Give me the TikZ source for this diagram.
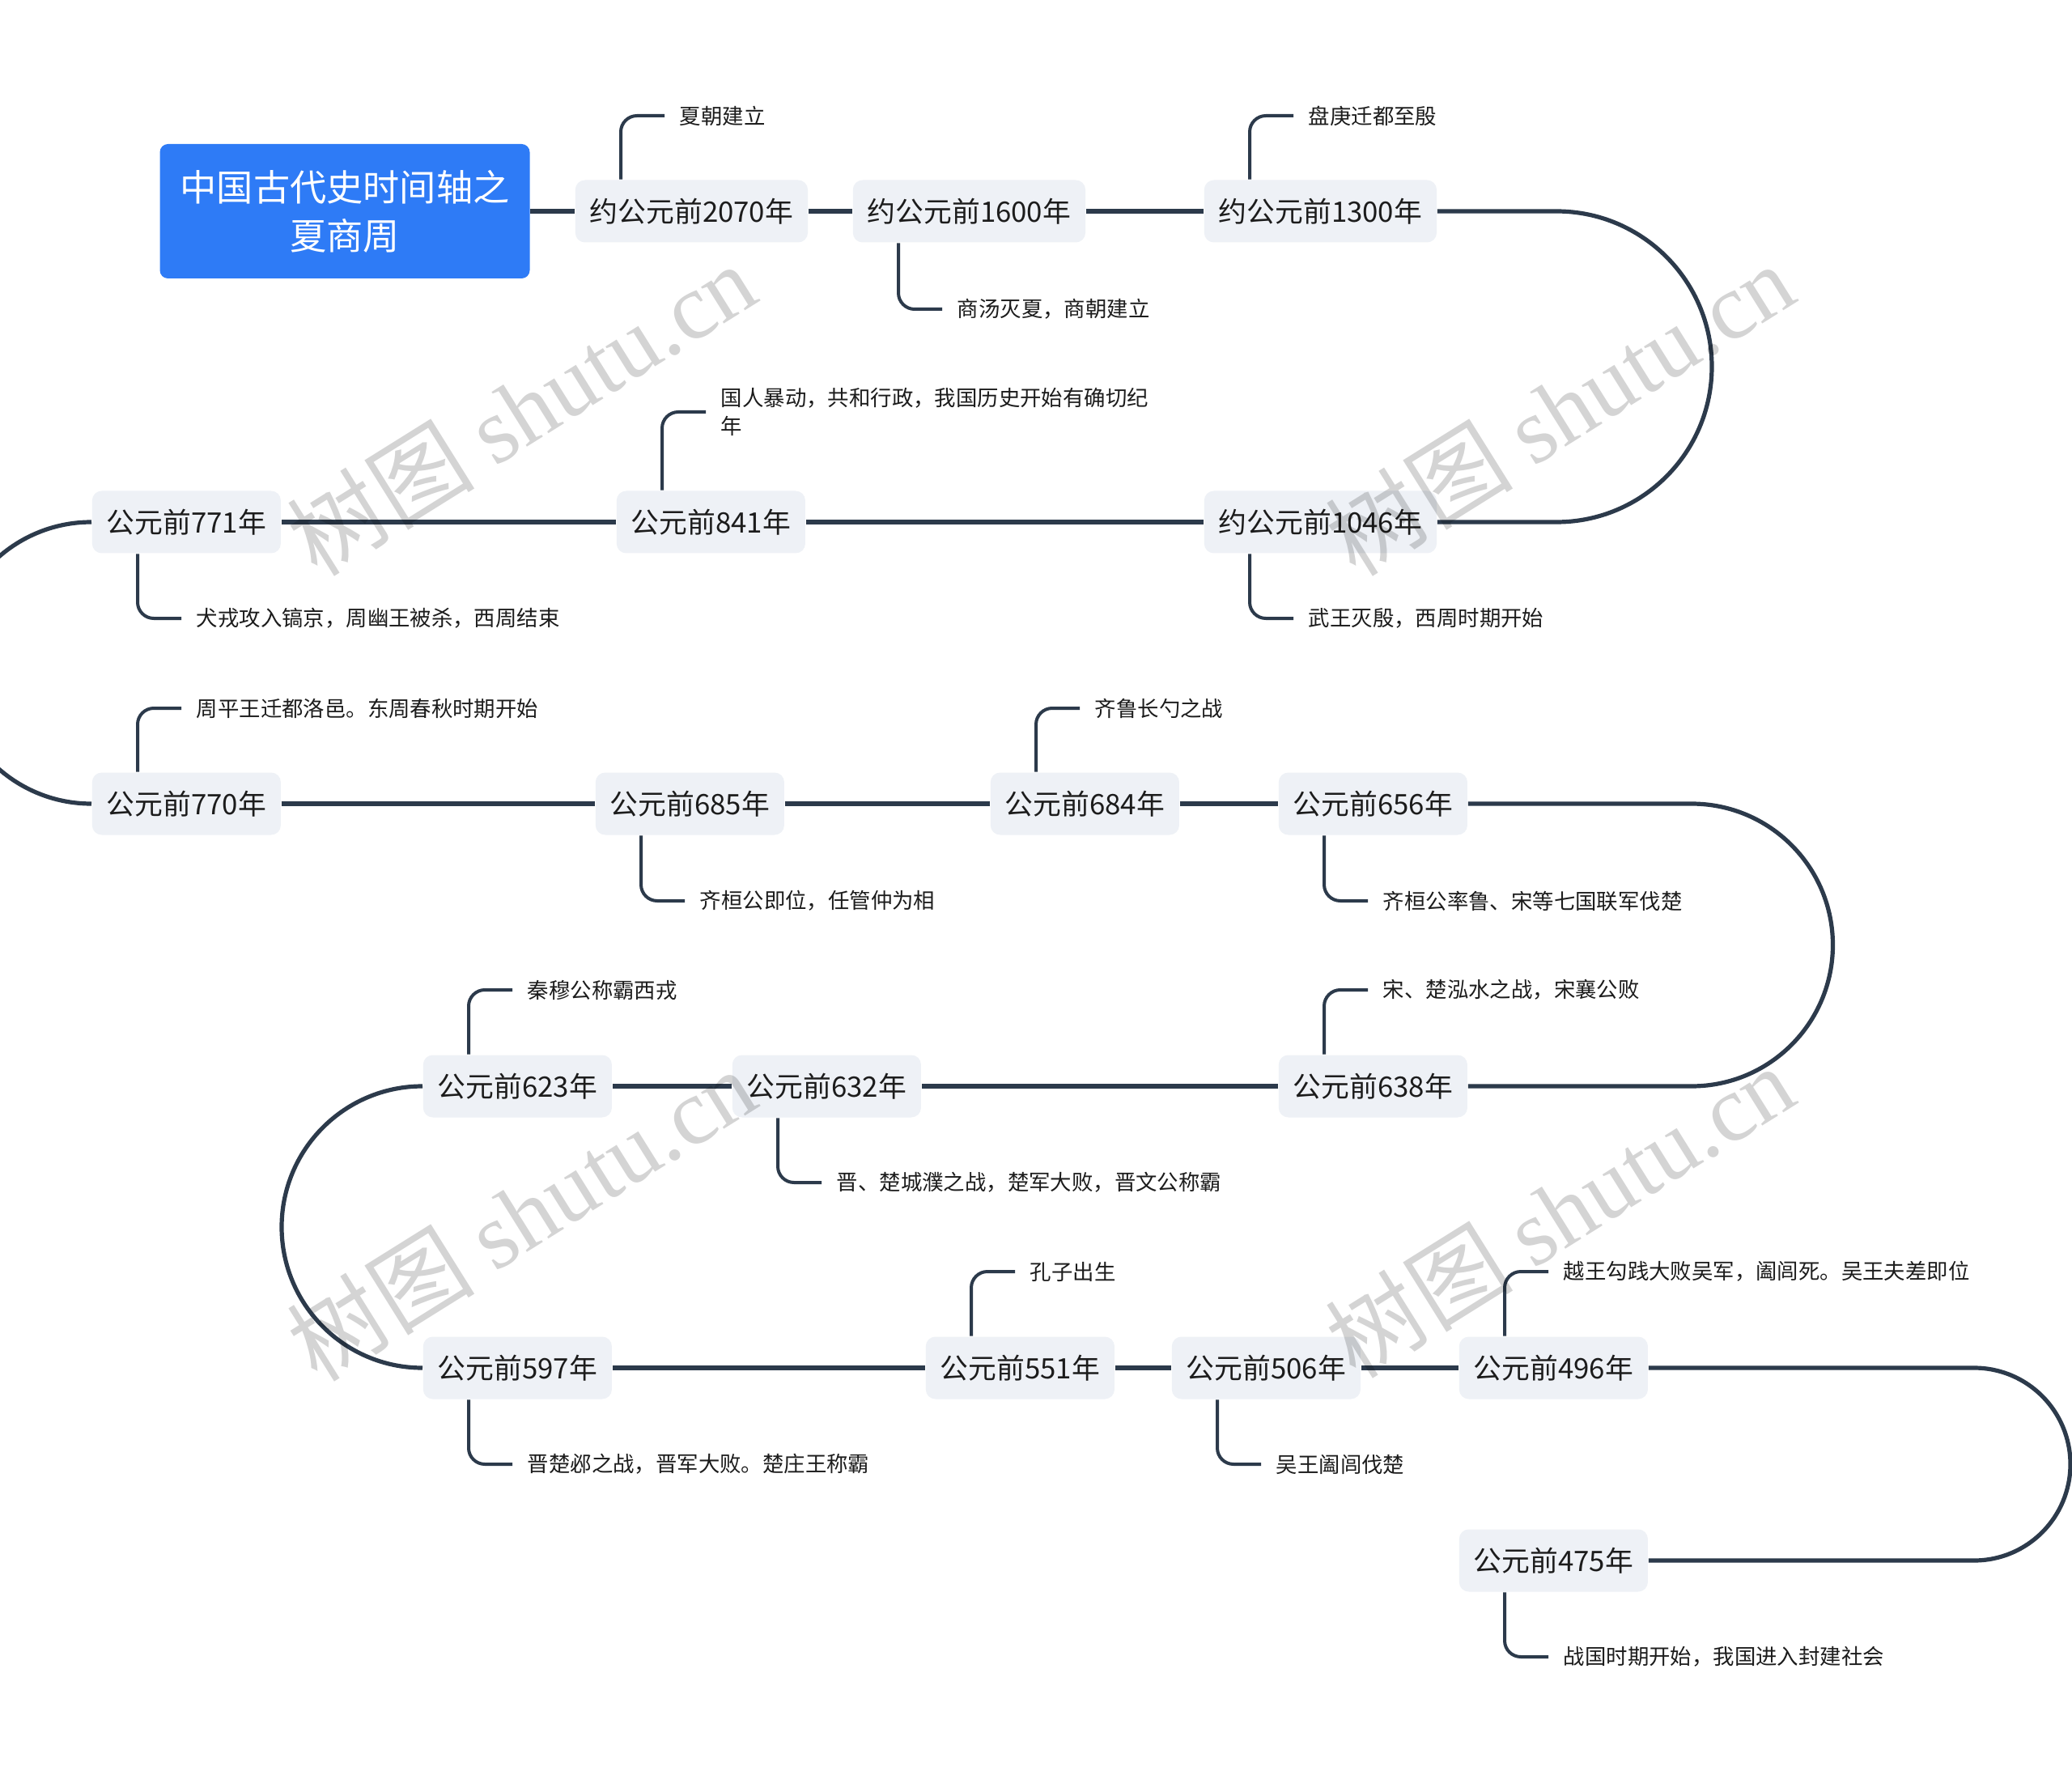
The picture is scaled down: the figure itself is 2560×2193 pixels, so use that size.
\documentclass[tikz,border=0pt]{standalone}
\usepackage{fontspec}
\setmainfont{Noto Sans CJK SC}
\newfontfamily\markfont{Liberation Serif}
\usetikzlibrary{calc}
\definecolor{TimeInk}{HTML}{2C3A4B}
\definecolor{TimeBlue}{HTML}{2E7BF6}
\definecolor{TimePaper}{HTML}{EEF1F6}
\definecolor{TimeText}{HTML}{1C1C1C}
\tikzset{
  every node/.style={text=TimeText},
  root/.style={fill=TimeBlue, rounded corners=2.5pt, minimum width=114.25pt, minimum height=41.5pt, align=center, text=white, font=\fontsize{11.3pt}{15pt}\selectfont},
  period/.style={fill=TimePaper, rounded corners=3pt, inner xsep=4.5pt, inner ysep=0pt, minimum height=19.25pt, anchor=west, font=\fontsize{8.7pt}{10pt}\selectfont},
  event/.style={anchor=west, inner xsep=4.5pt, inner ysep=1pt, align=left, font=\fontsize{6.6pt}{8.6pt}\selectfont},
  spine/.style={draw=TimeInk, line width=1.3pt},
  twig/.style={draw=TimeInk, line width=1pt, rounded corners=5pt},
  watermark/.style={text=black, opacity=0.17, rotate=32, font=\fontsize{29pt}{29pt}\selectfont},
}

\begin{document}
\begin{tikzpicture}[x=0.25pt, y=-0.25pt]
  \useasboundingbox (0,0) rectangle (2560,2193);
  \fill[white] (0,0) rectangle (2560,2193);
  % Title
  \node[root] (title) at (426,261) {中国古代史时间轴之\\夏商周};
  % Timeline points, row by row
  \node[period] (n2070) at (710,261) {约公元前2070年};
  \node[period] (n1600) at (1053,261) {约公元前1600年};
  \node[period] (n1300) at (1487,261) {约公元前1300年};
  \node[period] (n771) at (113,645) {公元前771年};
  \node[period] (n841) at (761,645) {公元前841年};
  \node[period] (n1046) at (1487,645) {约公元前1046年};
  \node[period] (n770) at (113,993) {公元前770年};
  \node[period] (n685) at (735,993) {公元前685年};
  \node[period] (n684) at (1223,993) {公元前684年};
  \node[period] (n656) at (1579,993) {公元前656年};
  \node[period] (n623) at (522,1342) {公元前623年};
  \node[period] (n632) at (904,1342) {公元前632年};
  \node[period] (n638) at (1579,1342) {公元前638年};
  \node[period] (n597) at (522,1690) {公元前597年};
  \node[period] (n551) at (1143,1690) {公元前551年};
  \node[period] (n506) at (1447,1690) {公元前506年};
  \node[period] (n496) at (1802,1690) {公元前496年};
  \node[period] (n475) at (1802,1928) {公元前475年};
  % Spine, with the turns at the ends of the rows
  \draw[spine] (title) -- (n2070) -- (n1600) -- (n1300);
  \draw[spine] (n1300.east) -- (1923,261) arc[start angle=-90, end angle=90, radius=192] -- (n1046.east);
  \draw[spine] (n1046) -- (n841) -- (n771);
  \draw[spine] (n771.west) arc[start angle=-90, end angle=-270, radius=174] -- (n770.west);
  \draw[spine] (n770) -- (n685) -- (n684) -- (n656);
  \draw[spine] (n656.east) -- (2090,993) arc[start angle=-90, end angle=90, radius=174.5] -- (n638.east);
  \draw[spine] (n638) -- (n632) -- (n623);
  \draw[spine] (n623.west) arc[start angle=-90, end angle=-270, radius=174] -- (n597.west);
  \draw[spine] (n597) -- (n551) -- (n506) -- (n496);
  \draw[spine] (n496.east) -- (2439,1690) arc[start angle=-90, end angle=90, radius=119] -- (n475.east);
  % Events: point / corner / label x / label y / text
  \foreach \n/\s/\x/\y/\t in {
      n2070/north west/821/143/夏朝建立,
      n1600/south west/1164/382/商汤灭夏，商朝建立,
      n1300/north west/1598/143/盘庚迁都至殷,
      n841/north west/872/509/{国人暴动，共和行政，我国历史开始有确切纪\\年},
      n771/south west/224/764/犬戎攻入镐京，周幽王被杀，西周结束,
      n1046/south west/1598/764/武王灭殷，西周时期开始,
      n770/north west/224/875/周平王迁都洛邑。东周春秋时期开始,
      n685/south west/846/1113/齐桓公即位，任管仲为相,
      n684/north west/1334/875/齐鲁长勺之战,
      n656/south west/1690/1113/齐桓公率鲁、宋等七国联军伐楚,
      n623/north west/633/1223/秦穆公称霸西戎,
      n638/north west/1690/1223/宋、楚泓水之战，宋襄公败,
      n632/south west/1015/1461/晋、楚城濮之战，楚军大败，晋文公称霸,
      n551/north west/1254/1571/孔子出生,
      n496/north west/1913/1571/越王勾践大败吴军，阖闾死。吴王夫差即位,
      n597/south west/633/1809/晋楚邲之战，晋军大败。楚庄王称霸,
      n506/south west/1558/1809/吴王阖闾伐楚,
      n475/south west/1913/2047/战国时期开始，我国进入封建社会}{
    \node[event] (e\n) at (\x,\y) {\t};
    \draw[twig] ($(\n.\s)+(57,0)$) |- (e\n);
  }
  % Watermark
  \foreach \x/\y in {644/505, 1927/505, 644/1500, 1927/1496}
    \node[watermark] at (\x,\y) {树图 {\markfont shutu.cn}};
\end{tikzpicture}
\end{document}
